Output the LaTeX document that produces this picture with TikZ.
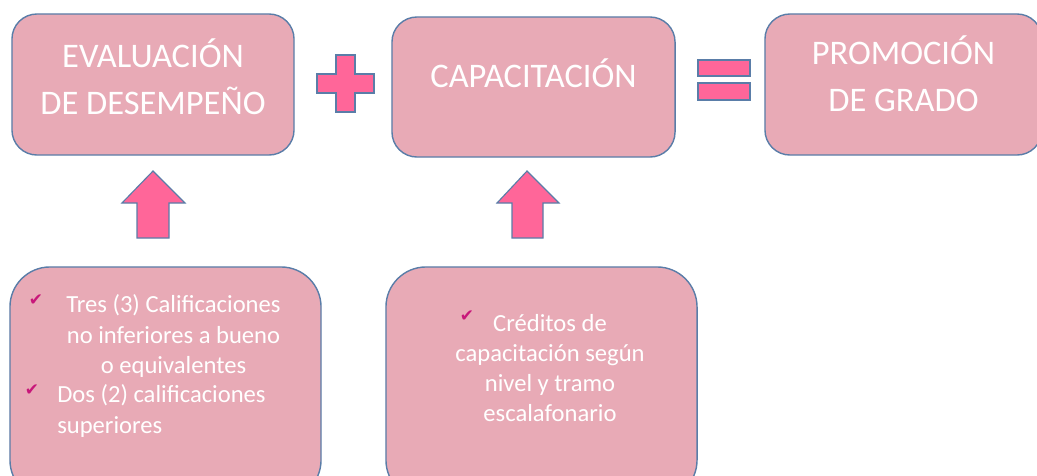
\documentclass[tikz,border=0pt]{standalone}
\usepackage{fontspec}
\setmainfont{Carlito}
\newfontfamily\checkfont{DejaVu Sans}
\usetikzlibrary{positioning}
\definecolor{boxpink}{HTML}{E8AAB6}
\definecolor{boxline}{HTML}{5A7DA8}
\definecolor{signpink}{HTML}{FF6699}
\definecolor{tickmag}{HTML}{C8177A}
\tikzstyle{box}=[draw=boxline, line width=1pt, fill=boxpink, rounded corners=0.625cm, inner sep=0pt, minimum height=3.525cm]
\tikzstyle{bigbox}=[box, rounded corners=1cm, minimum width=7.775cm, minimum height=5.825cm]
\tikzstyle{title}=[text=white, align=center, inner sep=0pt, font=\fontsize{24.5}{33.4}\selectfont]
\tikzstyle{item}=[text=white, inner sep=0pt, font=\fontsize{17.5}{21.5}\selectfont]
\tikzstyle{tick}=[text=tickmag, inner sep=0pt, font=\checkfont\fontsize{12}{14}\selectfont]
\tikzstyle{sign}=[draw=boxline, line width=0.8pt, fill=signpink]

\begin{document}
\begin{tikzpicture}[x=0.025cm, y=-0.025cm]
	\useasboundingbox (0,0) rectangle (1037,475);
	\node [box, minimum width=7.05cm] (0) at (153,84.5) {};
	\node [box, minimum width=7.075cm, minimum height=3.5cm] (1) at (533.5,87) {};
	\node [box, minimum width=6.925cm] (2) at (903.5,84.5) {};
	\node [bigbox] (3) at (165.5,383.5) {};
	\node [bigbox] (4) at (541.5,383.5) {};
	\node [title] (5) at (153,77) {EVALUACIÓN\\DE DESEMPEÑO};
	\node [title] (6) at (533.5,73) {CAPACITACIÓN};
	\node [title] (7) at (903.5,74) {PROMOCIÓN\\DE GRADO};
	\node [tick] (8) at (36,300) {✔};
	\node [item, align=center] (9) at (173.5,336) {Tres (3) Calificaciones\\no inferiores a bueno\\o equivalentes};
	\node [tick] (10) at (32,390) {✔};
	\node [item, align=left, anchor=west] (11) at (57,411) {Dos (2) calificaciones\\superiores};
	\node [tick] (12) at (467,316) {✔};
	\node [item, align=center] (13) at (550,368) {Créditos de\\capacitación según\\nivel y tramo\\escalafonario};
	\draw [sign] (317,74) -- (336,74) -- (336,55) -- (355,55) -- (355,74) -- (374,74) -- (374,93) -- (355,93) -- (355,112) -- (336,112) -- (336,93) -- (317,93) -- cycle;
	\draw [sign] (698,60) rectangle (750,76);
	\draw [sign] (698,83) rectangle (750,100);
	\draw [sign] (153,171) -- (185,203) -- (169,203) -- (169,238) -- (137,238) -- (137,203) -- (122,203) -- cycle;
	\draw [sign] (527,171) -- (559,203) -- (543,203) -- (543,238) -- (512,238) -- (512,203) -- (497,203) -- cycle;
\end{tikzpicture}
\end{document}
